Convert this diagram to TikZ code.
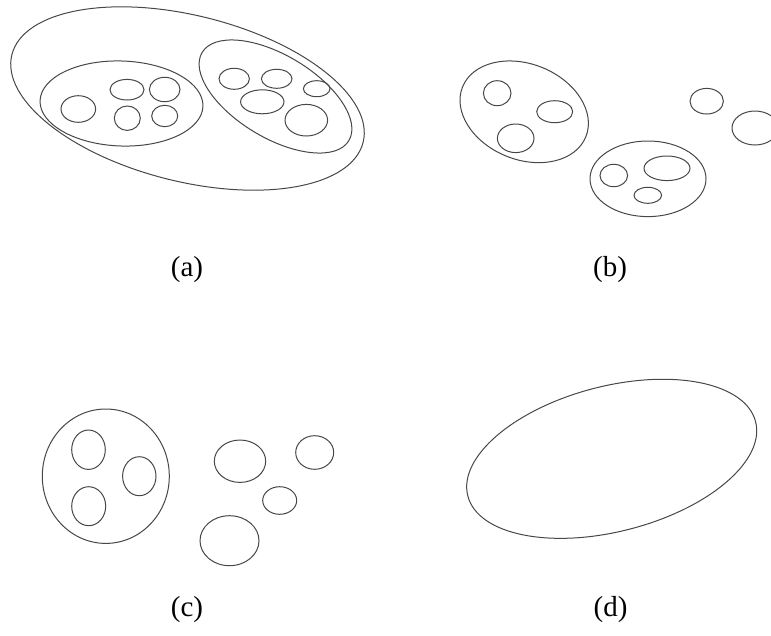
\documentclass[tikz,border=0pt]{standalone}
\usepackage{fontspec}
\setmainfont{Liberation Serif}
\newcommand\EL[5]{\draw[setline, rotate around={#5:(#1,#2)}] (#1,#2) ellipse ({#3pt} and {#4pt});}
\begin{document}
\begin{tikzpicture}[x=1pt,y=-1pt,
  setline/.style={draw=black!72, line width=1pt},
  lab/.style={font=\fontsize{29}{34}\selectfont, inner sep=0pt}]
\useasboundingbox (0,0) rectangle (771,635);
\clip (0,0) rectangle (771,635);
% ---------- (a) ----------
\EL{187.5}{98.5}{181}{83}{-14}
\EL{121.5}{103.5}{81.5}{42.5}{-2}
\EL{275.5}{96.5}{85.6}{41.3}{-31}
\EL{78.3}{109}{17.3}{13.3}{0}
\EL{127}{89.7}{17}{10.3}{0}
\EL{164.7}{89.5}{15.3}{12.2}{0}
\EL{127.3}{118.2}{13}{12.2}{0}
\EL{164.7}{116}{13}{10.7}{0}
\EL{234.2}{78.8}{15.2}{10.5}{0}
\EL{276.7}{78.8}{15.3}{9.5}{0}
\EL{316.7}{88.7}{13.3}{8}{0}
\EL{262.3}{101.8}{21.7}{12}{0}
\EL{306.3}{120.2}{21.3}{15.8}{0}
\node[lab] (la) at (187,270) {(a)};
% ---------- (b) ----------
\EL{524.2}{111.8}{66.5}{47.8}{-22}
\EL{497.2}{93.2}{13.8}{12.5}{0}
\EL{554.7}{111.7}{18}{11}{0}
\EL{515.7}{138.3}{18.3}{14.3}{0}
\EL{648}{178.8}{58}{37.8}{0}
\EL{613.8}{175.5}{13.8}{11.2}{0}
\EL{667}{168.3}{23}{12.3}{0}
\EL{647.8}{195.3}{13.8}{8}{0}
\EL{706.7}{101.2}{16.7}{12.8}{0}
\EL{755}{128}{23}{17}{0}
\node[lab] (lb) at (610,270) {(b)};
% ---------- (c) ----------
\EL{105.8}{476.2}{63.5}{67.2}{0}
\EL{88.5}{449.7}{16.8}{19.7}{0}
\EL{139.3}{476.2}{16.7}{19.5}{0}
\EL{88.7}{506.2}{17}{19.5}{0}
\EL{240}{461.2}{25.7}{21.2}{0}
\EL{314.7}{452.5}{19}{16.8}{0}
\EL{279.7}{500.5}{17}{13.8}{0}
\EL{229.5}{540.7}{29.5}{25}{0}
\node[lab] (lc) at (187,609.5) {(c)};
% ---------- (d) ----------
\EL{611.7}{458.8}{148.6}{72.6}{14.5}
\node[lab] (ld) at (610.5,609.5) {(d)};
\end{tikzpicture}
\end{document}
